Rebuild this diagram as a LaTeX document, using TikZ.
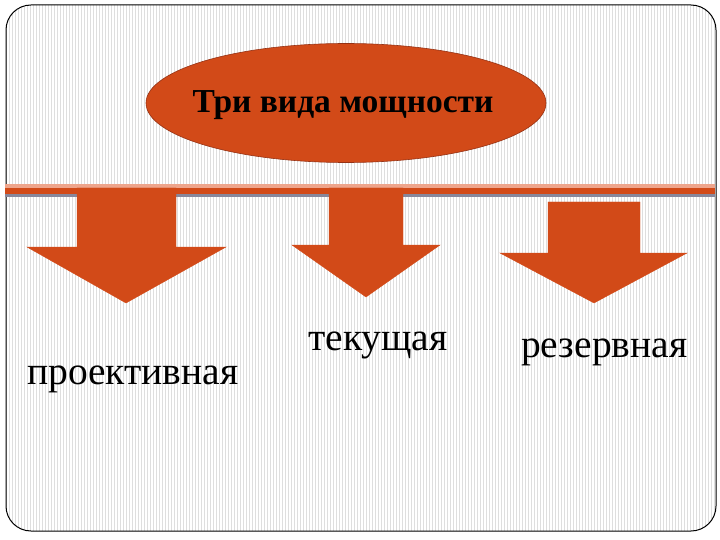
\documentclass[tikz,border=0pt]{standalone}
\usepackage{fontspec}
\setmainfont{Liberation Serif}
\usetikzlibrary{shapes.geometric}
\definecolor{orng}{RGB}{210,74,24}
\definecolor{orngdark}{RGB}{150,50,20}
\definecolor{salmon}{RGB}{238,165,140}
\definecolor{bandgray}{RGB}{135,135,155}
\definecolor{stripe}{RGB}{222,222,222}
\tikzset{
  arrowshape/.style={fill=orng, draw=orng, line width=0.4pt, line join=miter},
  lbl/.style={font=\fontsize{39.5}{42}\selectfont, inner sep=0pt, anchor=base west},
}
\begin{document}
\begin{tikzpicture}[x=1pt,y=-1pt]
\useasboundingbox (0,0) rectangle (720,540);
\fill[white] (0,0) rectangle (720,540);
% striped background inside the frame
\begin{scope}
\clip[rounded corners=25pt] (6,5) rectangle (716,531);
\foreach \i in {0,...,240} {
  \draw[stripe, line width=0.7pt] ({6+3*\i},5) -- ({6+3*\i},531);
}
\end{scope}
\draw[black, line width=1pt, rounded corners=25pt] (6,5) rectangle (716,531);
% horizontal bar
\fill[salmon] (5,184) rectangle (715,188);
\fill[orng] (5,188) rectangle (715,194);
\fill[bandgray] (5,194) rectangle (715,197);
% ellipse
\node[ellipse, draw=orngdark, line width=0.6pt, fill=orng, minimum width=400pt, minimum height=119pt, inner sep=0pt] (title) at (346,103) {};
\node[font=\fontsize{33.5}{35}\selectfont\bfseries, text=black, inner sep=0pt, anchor=base] (titletext) at (343,113) {Три вида мощности};
% arrows
\path[arrowshape] (77,188) -- (176,188) -- (176,247) -- (226,247) -- (126,303) -- (27,247) -- (77,247) -- cycle;
\path[arrowshape] (329,188) -- (403,188) -- (403,245) -- (440,245) -- (366,297) -- (292,245) -- (329,245) -- cycle;
\path[arrowshape] (548,202) -- (640,202) -- (640,253) -- (687,253) -- (594,303) -- (500,253) -- (548,253) -- cycle;
% labels
\node[lbl] (l1) at (27,384) {проективная};
\node[lbl] (l2) at (308,350) {текущая};
\node[lbl] (l3) at (521,357) {резервная};
\end{tikzpicture}
\end{document}
